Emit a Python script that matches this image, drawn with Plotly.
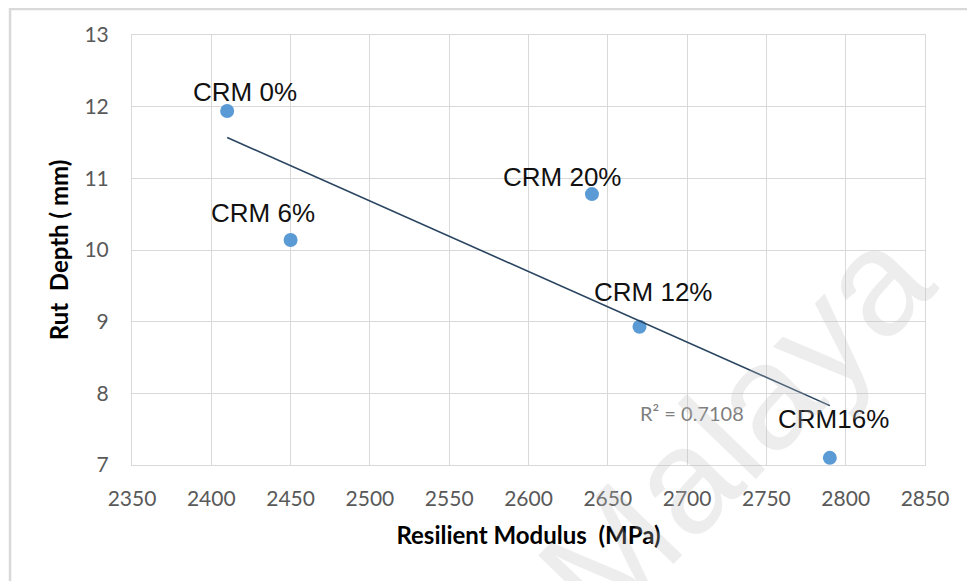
import numpy as np
import plotly.graph_objs as go

# values
mix_names = ["CRM 0%", "CRM 6%", "CRM 20%", "CRM 12%", "CRM16%"]
modulus = [2410, 2450, 2640, 2670, 2790]
rut_depth = [11.94, 10.14, 10.78, 8.93, 7.10]
x_ticks = [2350, 2400, 2450, 2500, 2550, 2600, 2650, 2700, 2750, 2800, 2850]
y_ticks = [7, 8, 9, 10, 11, 12, 13]

# linear trendline, like Excel does it
slope, icpt = np.polyfit(modulus, rut_depth, 1)
trend_x = [min(modulus), max(modulus)]
trend_y = [slope * v + icpt for v in trend_x]

points = go.Scatter(x=modulus, y=rut_depth, mode="markers",
                    marker=dict(color="#5b9bd5", size=14), showlegend=False)
trend = go.Scatter(x=trend_x, y=trend_y, mode="lines",
                   line=dict(color="#2a4560", width=1.6), showlegend=False)

# label offsets in pixels (xshift, yshift) so they sit like the original
shifts = [(18, 19), (-28, 27), (-30, 17), (13, 35), (4, 39)]
notes = []
for name, x, y, (sx, sy) in zip(mix_names, modulus, rut_depth, shifts):
    notes.append(dict(x=x, y=y, text=name, showarrow=False, xshift=sx, yshift=sy,
                      font=dict(family="Liberation Sans, Arial", size=26, color="#111111")))
notes.append(dict(x=2703, y=7.72, text="R² = 0.7108", showarrow=False,
                  font=dict(family="Lato, Calibri", size=20, color="#7f7f7f")))
# watermark
notes.append(dict(xref="paper", yref="paper", x=0.76, y=0.09, xanchor="center", yanchor="middle",
                  text="Malaya", showarrow=False, textangle=-46,
                  font=dict(family="Liberation Sans, Arial", size=150, color="rgba(190,190,190,0.27)")))

fig = go.Figure([points, trend])
fig.update_layout(
    width=975, height=581,
    margin=dict(l=124, r=58, t=27, b=124),
    paper_bgcolor="white", plot_bgcolor="white",
    font=dict(family="Lato, Calibri", color="#595959"),
    annotations=notes,
    shapes=[dict(type="rect", xref="paper", yref="paper", x0=-0.1538, x1=1.2, y0=-0.6, y1=1.0605,
                 line=dict(color="#d9d9d9", width=2.5), layer="below")],
)
fig.update_xaxes(range=[2350, 2850], tickvals=x_ticks, showgrid=True, gridcolor="#d9d9d9",
                 zeroline=False, showline=True, linecolor="#d9d9d9", mirror=True,
                 tickfont=dict(size=21, color="#595959"), ticks="", ticklabelstandoff=15,
                 title=dict(text="<b>Resilient Modulus  (MPa)</b>", standoff=17,
                            font=dict(size=24, color="#000000")))
fig.update_yaxes(range=[7, 13], tickvals=y_ticks, showgrid=True, gridcolor="#d9d9d9",
                 zeroline=False, showline=True, linecolor="#d9d9d9", mirror=True,
                 tickfont=dict(size=21, color="#595959"), ticks="", ticklabelstandoff=18,
                 title=dict(text="<b>Rut  Depth ( mm)</b>", standoff=9,
                            font=dict(size=24, color="#000000")))

fig.write_html("out.html")
